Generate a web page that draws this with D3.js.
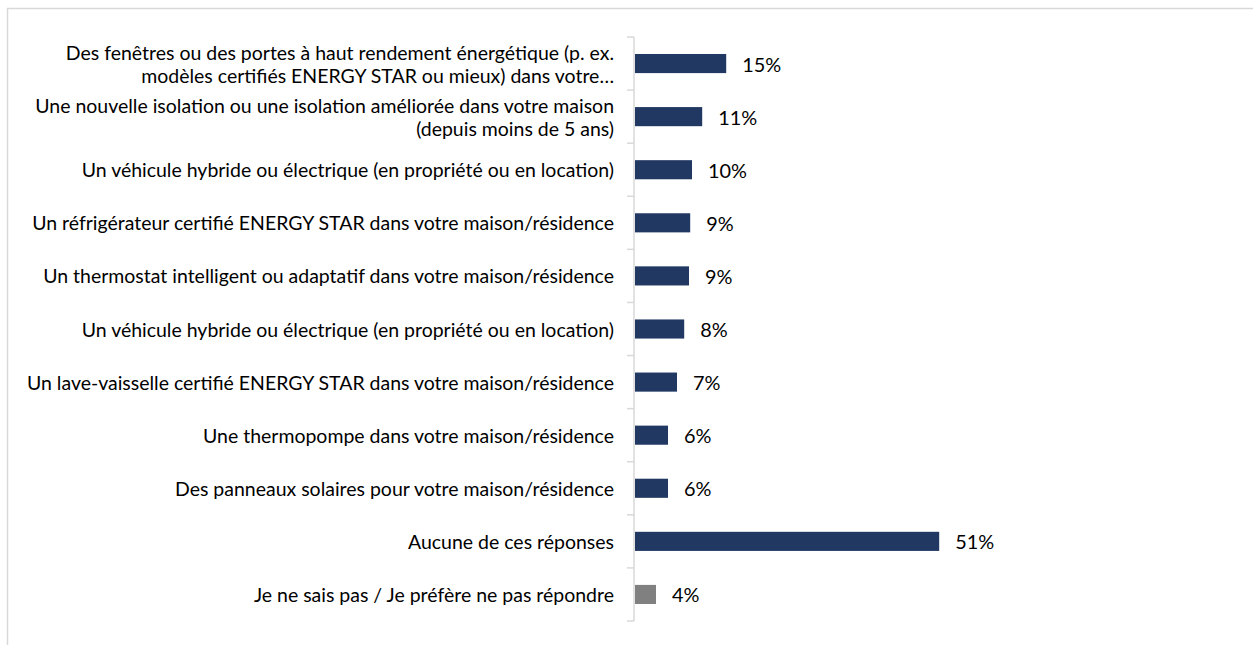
<!DOCTYPE html>
<html>
<head>
<meta charset="utf-8">
<script src="https://cdn.jsdelivr.net/npm/d3@7"></script>
<style>
  html, body { margin: 0; padding: 0; background: #fff; }
  svg { display: block; }
  text { font-family: Lato, "Noto Sans", sans-serif; fill: #000; }
</style>
</head>
<body>
<div id="chart"></div>
<script>
// categories, one entry per bar; each entry holds the label lines as shown
const categories = [
  ["Des fenêtres ou des portes à haut rendement énergétique (p. ex.", "modèles certifiés ENERGY STAR ou mieux) dans votre…"],
  ["Une nouvelle isolation ou une isolation améliorée dans votre maison", "(depuis moins de 5 ans)"],
  ["Un véhicule hybride ou électrique (en propriété ou en location)"],
  ["Un réfrigérateur certifié ENERGY STAR dans votre maison/résidence"],
  ["Un thermostat intelligent ou adaptatif dans votre maison/résidence"],
  ["Un véhicule hybride ou électrique (en propriété ou en location)"],
  ["Un lave-vaisselle certifié ENERGY STAR dans votre maison/résidence"],
  ["Une thermopompe dans votre maison/résidence"],
  ["Des panneaux solaires pour votre maison/résidence"],
  ["Aucune de ces réponses"],
  ["Je ne sais pas / Je préfère ne pas répondre"]
];
// percent values
const values = [15.2, 11.2, 9.5, 9.2, 9.0, 8.2, 7.0, 5.5, 5.5, 50.7, 3.5];
// which bars are the grey "no answer" one
const isNeutral = [false, false, false, false, false, false, false, false, false, false, true];

const width = 1253, height = 645;
const navy = "#213863", grey = "#808080", axisGrey = "#d9d9d9";

const svg = d3.select("#chart").append("svg")
  .attr("width", width)
  .attr("height", height);

// chart frame (runs off the right and bottom edge, like the source)
svg.append("rect")
  .attr("x", 7.5).attr("y", 8.5)
  .attr("width", 1400).attr("height", 800)
  .attr("fill", "none")
  .attr("stroke", axisGrey)
  .attr("stroke-width", 1.5);

const ids = categories.map((d, i) => i);

const y = d3.scaleBand()
  .domain(ids)
  .range([37, 621])
  .paddingInner(0.64)
  .paddingOuter(0.32);

const x = d3.scaleLinear()
  .domain([0, 100])
  .range([635, 1235]);

// fit the label font so the reference line gets the same width as in the picture
const probe = svg.append("text").attr("font-size", 20)
  .text("Un réfrigérateur certifié ENERGY STAR dans votre maison/résidence");
const catSize = 20 * 582 / probe.node().getComputedTextLength();
probe.attr("font-size", 20).text("15%");
const valSize = 20 * 39 / probe.node().getComputedTextLength();
probe.remove();

const lineH = 23;

// axis line + ticks at band boundaries
const step = y.step();
const axisX = 634;
svg.append("line")
  .attr("x1", axisX).attr("x2", axisX)
  .attr("y1", 37).attr("y2", 621)
  .attr("stroke", axisGrey).attr("stroke-width", 1.5);
const edges = ids.map(i => y(i) - step * 0.32).concat([y(ids.length - 1) - step * 0.32 + step]);
svg.selectAll(".tick").data(edges).join("line")
  .attr("class", "tick")
  .attr("x1", axisX - 7).attr("x2", axisX)
  .attr("y1", d => d).attr("y2", d => d)
  .attr("stroke", axisGrey).attr("stroke-width", 1.5);

// bars
svg.selectAll(".bar").data(ids).join("rect")
  .attr("class", "bar")
  .attr("x", x(0))
  .attr("y", i => y(i))
  .attr("width", i => x(values[i]) - x(0))
  .attr("height", y.bandwidth())
  .attr("fill", i => isNeutral[i] ? grey : navy);

// value labels
svg.selectAll(".val").data(ids).join("text")
  .attr("class", "val")
  .attr("x", i => x(values[i]) + 16)
  .attr("y", i => y(i) + y.bandwidth() / 2)
  .attr("dominant-baseline", "central")
  .attr("font-size", valSize)
  .text(i => Math.round(values[i]) + "%");

// category labels, right aligned
const cat = svg.selectAll(".cat").data(ids).join("text")
  .attr("class", "cat")
  .attr("text-anchor", "end")
  .attr("font-size", catSize);
cat.each(function(i) {
  const lines = categories[i];
  const cy = y(i) + y.bandwidth() / 2;
  d3.select(this).selectAll("tspan").data(lines).join("tspan")
    .attr("x", 614)
    .attr("y", (d, k) => cy + (k - (lines.length - 1) / 2) * lineH)
    .attr("dominant-baseline", "central")
    .text(d => d);
});
</script>
</body>
</html>
